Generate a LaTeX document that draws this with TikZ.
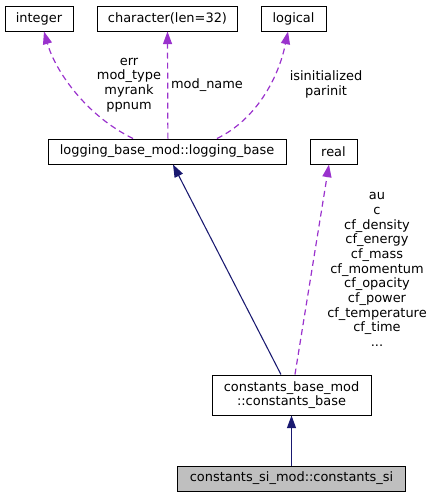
\documentclass[tikz,border=0pt]{standalone}
\usepackage{fontspec}
\setmainfont{DejaVu Sans}
\usetikzlibrary{arrows.meta}
\definecolor{usecol}{HTML}{9A32CD}
\definecolor{inhcol}{HTML}{191970}
\definecolor{selcol}{HTML}{BFBFBF}
\begin{document}
\begin{tikzpicture}[x=0.75pt,y=-0.75pt,
  every node/.style={font=\fontsize{9.7}{11}\selectfont},
  box/.style={draw=black,line width=0.75pt,inner sep=0pt,minimum height=18.75pt,align=center},
  lbl/.style={inner sep=0pt,align=center},
  uses/.style={color=usecol,dash pattern=on 4.5pt off 3pt,line width=0.9pt,-{Triangle[length=9.5pt,width=6.8pt,fill=usecol]}},
  inh/.style={color=inhcol,line width=0.8pt,-{Triangle[length=9.5pt,width=6.8pt,fill=inhcol]}}
]
\useasboundingbox (0,0) rectangle (433,497);
\node[box,minimum width=51pt] (int) at (39,18.5) {integer};
\node[box,minimum width=105pt] (chr) at (167.5,18.5) {character(len=32)};
\node[box,minimum width=48.75pt] (log) at (293.5,18.5) {logical};
\node[box,minimum width=178.5pt] (lb) at (167,151.5) {logging\_base\_mod::logging\_base};
\node[box,minimum width=35.25pt] (real) at (333.5,151.5) {real};
\node[box,minimum width=119.25pt,minimum height=30pt] (cb) at (291.5,395) {constants\_base\_mod\\::constants\_base};
\node[box,minimum width=171pt,fill=selcol] (si) at (291.5,478.5) {constants\_si\_mod::constants\_si};

\node[lbl] (l1) at (129,85) {err\\mod\_type\\myrank\\ppnum};
\node[lbl] (l2) at (207,85) {mod\_name};
\node[lbl] (l3) at (326,84.5) {isinitialized\\parinit};
\node[lbl] (l4) at (377,269.5) {au\\c\\cf\_density\\cf\_energy\\cf\_mass\\cf\_momentum\\cf\_opacity\\cf\_power\\cf\_temperature\\cf\_time\\...};

\draw[uses] ([xshift=-25.5pt]lb.north) .. controls (85,115) and (55,70) .. ([xshift=3.75pt]int.south);
\draw[uses] ([xshift=0.3pt]chr.south |- lb.north) -- (chr.south);
\draw[uses] ([xshift=37.5pt]lb.north) .. controls (255,120) and (278,80) .. ([xshift=-4.1pt]log.south);
\draw[uses] ([xshift=2.6pt]cb.north) -- ([xshift=-3.4pt]real.south);
\draw[inh] ([xshift=-7.9pt]cb.north) -- ([xshift=4.5pt]lb.south);
\draw[inh] (si.north) -- (si.north |- cb.south);
\end{tikzpicture}
\end{document}
